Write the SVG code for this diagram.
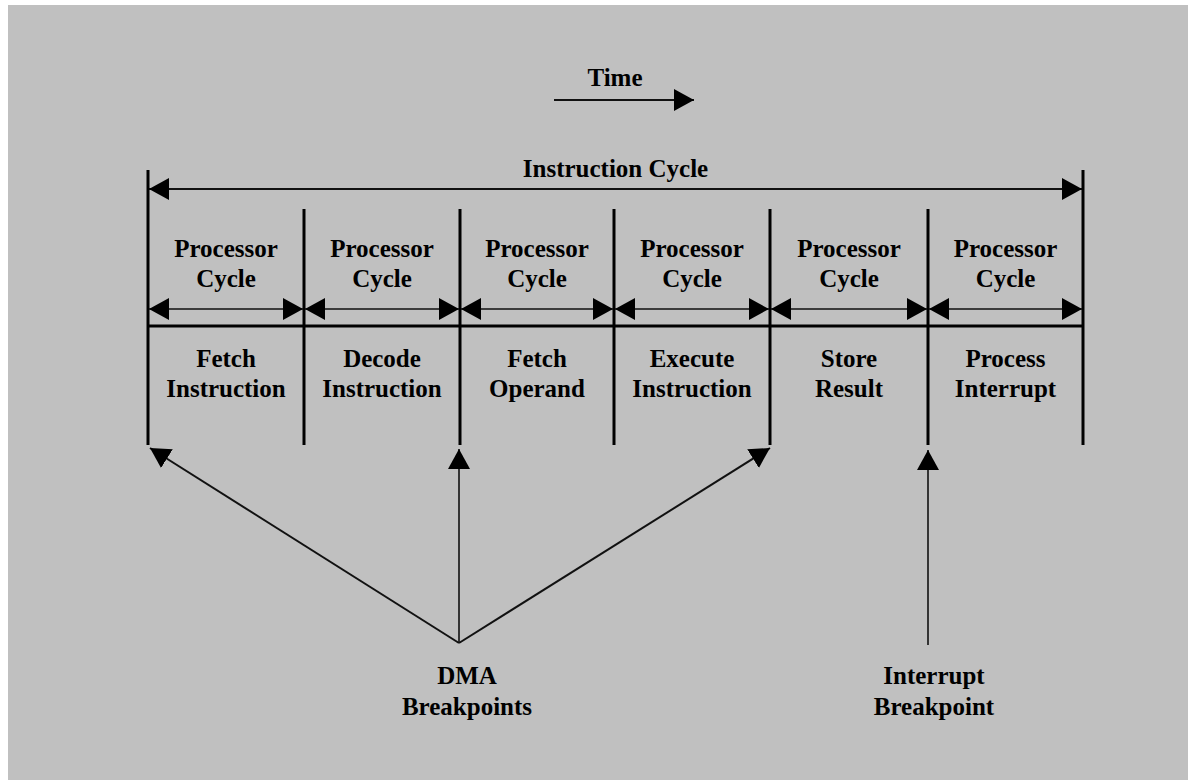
<svg xmlns="http://www.w3.org/2000/svg" width="1188" height="780" viewBox="0 0 1188 780">
<style>
text{font-family:"Liberation Serif","Times New Roman",serif;font-weight:bold;font-size:25px;fill:#000;text-anchor:middle}
.v{stroke:#000;stroke-width:3;fill:none}
.thin{stroke:#111;stroke-width:1.6;fill:none}
.mid{stroke:#111;stroke-width:2;fill:none}
</style>
<defs>
<marker id="ah" markerUnits="userSpaceOnUse" markerWidth="22" markerHeight="24" refX="20" refY="11" orient="auto-start-reverse" viewBox="0 0 22 22">
<path d="M0,0 L20,11 L0,22 Z" fill="#000"/>
</marker>
</defs>
<rect x="0" y="0" width="1188" height="780" fill="#fff"/>
<rect x="8" y="5" width="1180" height="775" fill="#c0c0c0"/>

<g id="time">
<text x="615" y="86">Time</text>
<line class="mid" x1="554" y1="100" x2="694" y2="100" marker-end="url(#ah)"/>
</g>

<g id="instruction-cycle">
<text x="615.5" y="177">Instruction Cycle</text>
<line class="mid" x1="149" y1="189" x2="1082" y2="189" marker-start="url(#ah)" marker-end="url(#ah)"/>
</g>

<g id="frame">
<line class="v" x1="148" y1="170" x2="148" y2="445"/>
<line class="v" x1="1083" y1="170" x2="1083" y2="445"/>
<line class="v" x1="304" y1="209" x2="304" y2="445"/>
<line class="v" x1="460" y1="209" x2="460" y2="445"/>
<line class="v" x1="614" y1="209" x2="614" y2="445"/>
<line class="v" x1="770" y1="209" x2="770" y2="445"/>
<line class="v" x1="928" y1="209" x2="928" y2="445"/>
<line class="v" x1="148" y1="326" x2="1083" y2="326"/>
</g>

<g id="cycle1">
<text x="226" y="257">Processor</text><text x="226" y="287">Cycle</text>
<line class="thin" x1="149" y1="309" x2="303" y2="309" marker-start="url(#ah)" marker-end="url(#ah)"/>
<text x="226" y="367">Fetch</text><text x="226" y="397">Instruction</text>
</g>
<g id="cycle2">
<text x="382" y="257">Processor</text><text x="382" y="287">Cycle</text>
<line class="thin" x1="305" y1="309" x2="459" y2="309" marker-start="url(#ah)" marker-end="url(#ah)"/>
<text x="382" y="367">Decode</text><text x="382" y="397">Instruction</text>
</g>
<g id="cycle3">
<text x="537" y="257">Processor</text><text x="537" y="287">Cycle</text>
<line class="thin" x1="461" y1="309" x2="613" y2="309" marker-start="url(#ah)" marker-end="url(#ah)"/>
<text x="537" y="367">Fetch</text><text x="537" y="397">Operand</text>
</g>
<g id="cycle4">
<text x="692" y="257">Processor</text><text x="692" y="287">Cycle</text>
<line class="thin" x1="615" y1="309" x2="769" y2="309" marker-start="url(#ah)" marker-end="url(#ah)"/>
<text x="692" y="367">Execute</text><text x="692" y="397">Instruction</text>
</g>
<g id="cycle5">
<text x="849" y="257">Processor</text><text x="849" y="287">Cycle</text>
<line class="thin" x1="771" y1="309" x2="927" y2="309" marker-start="url(#ah)" marker-end="url(#ah)"/>
<text x="849" y="367">Store</text><text x="849" y="397">Result</text>
</g>
<g id="cycle6">
<text x="1005.5" y="257">Processor</text><text x="1005.5" y="287">Cycle</text>
<line class="thin" x1="929" y1="309" x2="1082" y2="309" marker-start="url(#ah)" marker-end="url(#ah)"/>
<text x="1005.5" y="367">Process</text><text x="1005.5" y="397">Interrupt</text>
</g>

<g id="connectors">
<line class="mid" x1="459" y1="643" x2="150" y2="448" marker-end="url(#ah)"/>
<line class="thin" x1="459" y1="643" x2="459" y2="449" marker-end="url(#ah)"/>
<line class="mid" x1="459" y1="643" x2="770" y2="448" marker-end="url(#ah)"/>
<line class="thin" x1="928" y1="645" x2="928" y2="450" marker-end="url(#ah)"/>
</g>

<g id="dma">
<text x="467" y="684">DMA</text><text x="467" y="715">Breakpoints</text>
</g>
<g id="interrupt">
<text x="934" y="684">Interrupt</text><text x="934" y="715">Breakpoint</text>
</g>
</svg>
